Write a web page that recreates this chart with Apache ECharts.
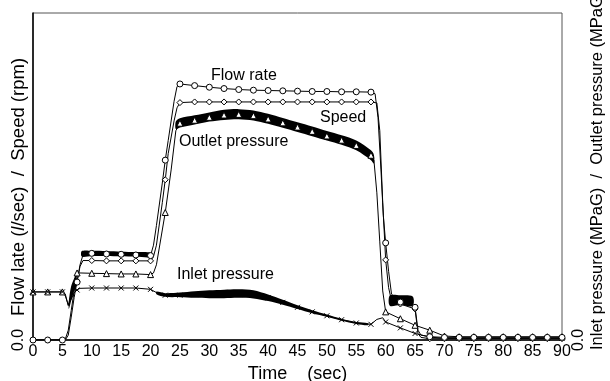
<!DOCTYPE html>
<html>
<head>
<meta charset="utf-8">
<script src="https://cdn.jsdelivr.net/npm/echarts@6/dist/echarts.min.js"></script>
<style>
  html, body { margin: 0; padding: 0; background: #fff; }
  #chart { width: 610px; height: 381px; }
</style>
</head>
<body>
<div id="chart"></div>
<script>
// time (sec) / value pairs (y in arbitrary units, 0..100)
const flowRate = [[0,0],[2.5,0],[5,0],[5.5,0.3],[6,3],[6.5,9],[7,15],[7.5,17.7],[8,23],[8.5,26],[10,26.5],[12.5,26.3],[15,26.2],[17.5,26],[20,25.8],[20.5,29],[21,35],[22,48],[22.5,55],[23,61],[24,73],[24.5,77.5],[25,78.3],[27.5,77.8],[30,77.3],[32.5,76.9],[35,76.6],[37.5,76.4],[40,76.3],[42.5,76.2],[45,76.1],[47.5,76],[50,76],[52.5,75.9],[55,75.9],[57.5,75.8],[58.2,75.3],[58.7,68],[59.2,52],[59.6,38],[60,29.7],[60.5,21],[61,14],[62.5,11.6],[64.5,11],[65,10],[65.5,3],[66,1.5],[67.5,1],[70,0.8],[72.5,0.8],[75,0.8],[77.5,0.8],[80,0.8],[82.5,0.8],[85,0.8],[87.5,0.8],[90,0.8]];
const speed = [[0,0],[2.5,0],[5,0],[5.5,0],[6,1.5],[6.5,7],[7,13],[7.5,18],[8,22.5],[8.5,24.3],[10,24.3],[12.5,24.2],[15,24.2],[17.5,24.2],[20,24.2],[20.5,25.5],[21,29],[22,42],[22.5,49],[23,57],[24,67],[24.5,71],[25,72.6],[27.5,72.8],[30,72.8],[32.5,72.8],[35,72.8],[37.5,72.8],[40,72.8],[42.5,72.8],[45,72.8],[47.5,72.8],[50,72.8],[52.5,72.8],[55,72.8],[57.5,72.8],[58.5,72.5],[59,64],[59.5,42],[60,24.5],[60.5,16],[61,12],[62.5,11],[65,9.5],[65.5,2],[66,0.8],[67.5,0.4],[70,0.4],[72.5,0.4],[75,0.4],[77.5,0.4],[80,0.4],[82.5,0.4],[85,0.4],[87.5,0.4],[90,0.4]];
const outletPressure = [[0,14.7],[2.5,14.7],[5,14.7],[5.5,14],[6,10.5],[6.5,14],[7,18],[7.5,20.5],[8,20.5],[10,20.4],[12.5,20.3],[15,20.2],[17.5,20.2],[20,20],[20.5,20.5],[21,23],[22.5,39],[23.5,52],[24.3,64],[25,66.3],[27.5,67.2],[30,68.1],[32.5,68.8],[35,69],[37.5,68.6],[40,67.6],[42.5,66.4],[45,65.1],[47.5,63.8],[50,62.4],[52.5,61.1],[55,59.5],[57.5,56.5],[58,55],[58.5,45],[59,30],[59.5,15],[60,8.6],[62.5,6.5],[65,4.5],[67.5,3],[70,1.2],[72.5,1],[75,1],[77.5,1],[80,1],[82.5,1],[85,1],[87.5,1],[90,1]];
const inletPressure = [[0,14.7],[2.5,14.7],[5,14.7],[5.5,13.5],[6,10.7],[6.5,12.5],[7,14.5],[7.5,15.3],[8,15.8],[10,15.9],[12.5,15.9],[15,15.9],[17.5,15.9],[20,15.5],[21,14.5],[22,13.8],[22.5,13.7],[25,13.7],[27.5,13.9],[30,14],[32.5,14.1],[35,14.2],[37.5,14],[40,12.9],[42.5,11.5],[45,10],[47.5,8.6],[50,7.4],[52.5,6.2],[55,5.2],[57.5,4.8],[58.5,6.3],[59.5,6.8],[60,5.5],[62.5,3.7],[65,2],[67.5,0.9],[70,0.5],[72.5,0.5],[75,0.5],[77.5,0.5],[80,0.5],[82.5,0.5],[85,0.5],[87.5,0.5],[90,0.5]];

// envelopes of the dense noisy parts: [time, low, high]
const outletBand = [[24.3,64.5,66.8],[25,65,67.8],[27.5,65.9,68.7],[30,66.8,69.6],[32.5,67.3,70.4],[35,67.5,70.6],[37.5,67.1,70.2],[40,66.1,69.2],[42.5,64.9,67.9],[45,63.6,66.6],[47.5,62.3,65.3],[50,61,63.9],[52.5,59.7,62.6],[55,58,61],[57.5,55,58],[58,54,56.6]];
const inletBand = [[21,14,14.8],[22.5,13.2,14.3],[25,13.1,14.5],[27.5,12.9,14.9],[30,12.8,15.2],[32.5,12.8,15.4],[35,12.9,15.5],[37.5,12.7,15.2],[40,11.9,13.9],[42.5,10.8,12.3],[45,9.5,10.6],[47.5,8.2,9.1],[50,7.1,7.8],[52.5,5.9,6.5],[55,4.9,5.5],[57,4.5,5.1]];
const flowStepBand = [[8.3,25.5,27.2],[10,25.7,27.3],[12.5,25.7,27.2],[15,25.6,27],[17.5,25.5,26.9],[20,25.3,26.7]];
const startBand = [[6.1,9.5,12],[6.5,12,16.5],[7,15,18.8],[7.4,17,20.2]];
const stopBand = [[60.7,10.5,13.6],[62.5,10.7,13.7],[64.6,10.4,13.3]];

const FONT = '"Liberation Sans", Arial, sans-serif';

function isMarkTime(t) {
  return Math.abs(t / 2.5 - Math.round(t / 2.5)) < 1e-6;
}

function lineSeries(name, data, symbol, size) {
  return {
    name: name,
    type: 'line',
    data: data.map(p => ({ value: p, symbol: isMarkTime(p[0]) ? symbol : 'none' })),
    symbolSize: size,
    showAllSymbol: true,
    lineStyle: { color: '#000', width: 1 },
    itemStyle: { color: '#fff', borderColor: '#000', borderWidth: 1 },
    z: 5
  };
}

function bandSeries(band) {
  return {
    type: 'custom',
    silent: true,
    data: band,
    encode: { x: 0, y: [1, 2] },
    renderItem: function (params, api) {
      if (params.dataIndex !== 0) return;
      const pts = [];
      band.forEach(b => pts.push(api.coord([b[0], b[2]])));
      for (let i = band.length - 1; i >= 0; i--) pts.push(api.coord([band[i][0], band[i][1]]));
      return { type: 'polygon', shape: { points: pts, smooth: 0.3 }, style: { fill: '#000' } };
    },
    z: 4
  };
}

const crossMark = 'path://M0,0L10,10M10,0L0,10';

const chart = echarts.init(document.getElementById('chart'));
chart.setOption({
  animation: false,
  textStyle: { fontFamily: FONT },
  grid: { left: 33, right: 48, top: 13, bottom: 41, containLabel: false, outerBoundsMode: 'none',
    show: true, borderColor: '#555', borderWidth: 1 },
  xAxis: {
    type: 'value', min: 0, max: 90, interval: 5,
    axisLine: { lineStyle: { color: '#000', width: 1.5 } },
    axisTick: { show: false },
    splitLine: { show: false },
    axisLabel: { color: '#000', fontSize: 16, margin: 4, fontFamily: FONT },
    name: 'Time    (sec)', nameLocation: 'middle', nameGap: 23,
    nameTextStyle: { color: '#000', fontSize: 18, fontFamily: FONT }
  },
  yAxis: [{
    type: 'value', min: 0, max: 100, interval: 100, position: 'left',
    axisLine: { show: true, lineStyle: { color: '#000', width: 1.5 } },
    axisTick: { show: false },
    splitLine: { show: false },
    axisLabel: { color: '#000', fontSize: 16, rotate: 90, margin: 6, fontFamily: FONT,
      formatter: v => v === 0 ? '0.0' : '' }
  }, {
    type: 'value', min: 0, max: 100, interval: 100, position: 'right',
    axisLine: { show: false },
    axisTick: { show: false },
    splitLine: { show: false },
    axisLabel: { color: '#000', fontSize: 16, rotate: 90, margin: 9, fontFamily: FONT,
      formatter: v => v === 0 ? '0.0' : '' }
  }],
  graphic: [
    { type: 'text', x: 19, y: 316, rotation: Math.PI / 2,
      style: { text: 'Flow late ({it|l}/sec)  /  Speed (rpm)', font: '18.5px ' + FONT, fill: '#000',
        align: 'left', verticalAlign: 'middle',
        rich: { it: { fontStyle: 'italic', fontSize: 18.5, fontFamily: FONT, fill: '#000' } } } },
    { type: 'text', x: 597, y: 350, rotation: Math.PI / 2,
      style: { text: 'Inlet pressure (MPaG)  /  Outlet pressure (MPaG)', font: '16.5px ' + FONT, fill: '#000',
        align: 'left', verticalAlign: 'middle' } },
    { type: 'text', left: 211, top: 68, style: { text: 'Flow rate', font: '16px ' + FONT, fill: '#000' } },
    { type: 'text', left: 320, top: 110, style: { text: 'Speed', font: '16px ' + FONT, fill: '#000' } },
    { type: 'text', left: 179, top: 134, style: { text: 'Outlet pressure', font: '16px ' + FONT, fill: '#000' } },
    { type: 'text', left: 177, top: 267, style: { text: 'Inlet pressure', font: '16px ' + FONT, fill: '#000' } }
  ],
  series: [
    bandSeries(outletBand),
    bandSeries(inletBand),
    bandSeries(flowStepBand),
    bandSeries(startBand),
    bandSeries(stopBand),
    lineSeries('Outlet pressure', outletPressure, 'triangle', 6),
    Object.assign(lineSeries('Inlet pressure', inletPressure, crossMark, 5),
      { itemStyle: { color: '#000', borderColor: '#000', borderWidth: 1 } }),
    lineSeries('Speed', speed, 'diamond', 6),
    lineSeries('Flow rate', flowRate, 'circle', 6)
  ]
});
window.onresize = function () { chart.resize(); };
</script>
</body>
</html>
